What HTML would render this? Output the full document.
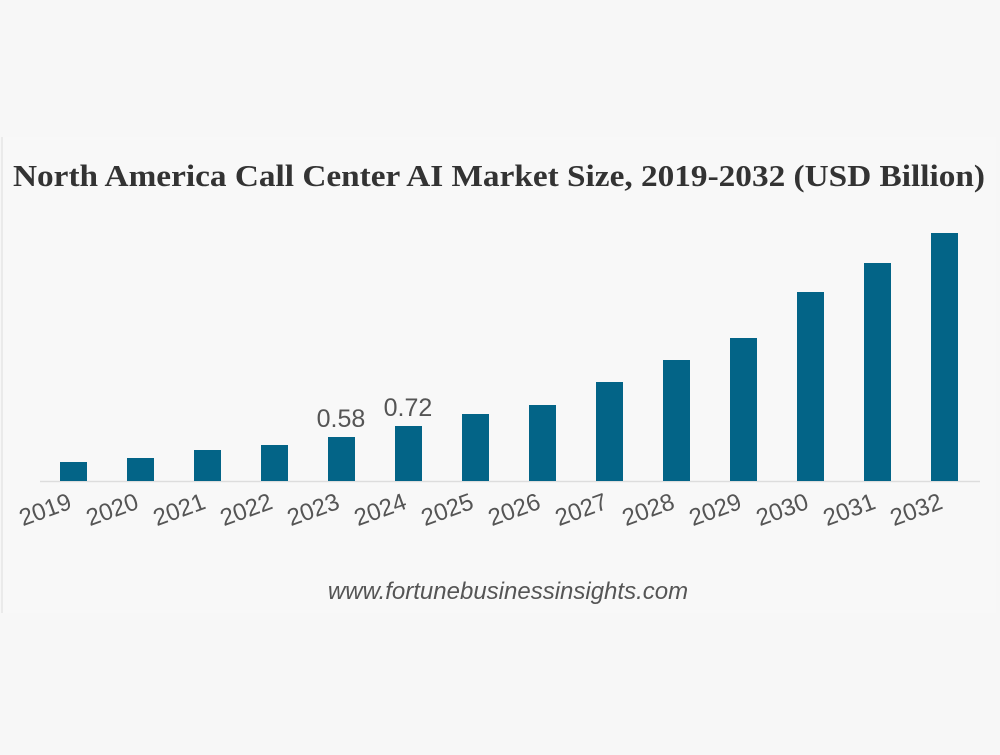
<!DOCTYPE html>
<html><head><style>
html,body{margin:0;padding:0;background:#f7f7f7;}
</style></head><body>
<svg width="1000" height="750" xmlns="http://www.w3.org/2000/svg">
<rect width="1000" height="750" fill="#f7f7f7"/>
<rect x="2" y="137" width="994" height="476" fill="#f8f8f8"/>
<line x1="2" y1="137" x2="2" y2="613" stroke="#eaeaea" stroke-width="2"/>
<text x="13" y="186" textLength="972" lengthAdjust="spacingAndGlyphs" font-family="Liberation Serif, serif" font-weight="bold" font-size="31" fill="#333">North America Call Center AI Market Size, 2019-2032 (USD Billion)</text>
<line x1="40" y1="481.5" x2="980" y2="481.5" stroke="#ddd" stroke-width="1.5"/>
<g fill="#036487">
<rect x="60" y="462" width="27" height="19"/>
<rect x="127" y="458" width="27" height="23"/>
<rect x="194" y="450" width="27" height="31"/>
<rect x="261" y="445" width="27" height="36"/>
<rect x="328" y="437" width="27" height="44"/>
<rect x="395" y="426" width="27" height="55"/>
<rect x="462" y="414" width="27" height="67"/>
<rect x="529" y="405" width="27" height="76"/>
<rect x="596" y="382" width="27" height="99"/>
<rect x="663" y="360" width="27" height="121"/>
<rect x="730" y="338" width="27" height="143"/>
<rect x="797" y="292" width="27" height="189"/>
<rect x="864" y="263" width="27" height="218"/>
<rect x="931" y="233" width="27" height="248"/>
</g>
<g font-family="Liberation Sans, sans-serif" font-size="25" fill="#555">
<text x="341" y="427" text-anchor="middle">0.58</text>
<text x="408" y="416" text-anchor="middle">0.72</text>
</g>
<g font-family="Liberation Sans, sans-serif" font-size="24" fill="#555" text-anchor="end">
<text transform="translate(73,508) rotate(-20)">2019</text>
<text transform="translate(140,508) rotate(-20)">2020</text>
<text transform="translate(207,508) rotate(-20)">2021</text>
<text transform="translate(274,508) rotate(-20)">2022</text>
<text transform="translate(341,508) rotate(-20)">2023</text>
<text transform="translate(408,508) rotate(-20)">2024</text>
<text transform="translate(475,508) rotate(-20)">2025</text>
<text transform="translate(542,508) rotate(-20)">2026</text>
<text transform="translate(609,508) rotate(-20)">2027</text>
<text transform="translate(676,508) rotate(-20)">2028</text>
<text transform="translate(743,508) rotate(-20)">2029</text>
<text transform="translate(810,508) rotate(-20)">2030</text>
<text transform="translate(877,508) rotate(-20)">2031</text>
<text transform="translate(944,508) rotate(-20)">2032</text>
</g>
<text x="508" y="599" text-anchor="middle" font-family="Liberation Sans, sans-serif" font-style="italic" font-size="24" fill="#555">www.fortunebusinessinsights.com</text>
</svg>
</body></html>
